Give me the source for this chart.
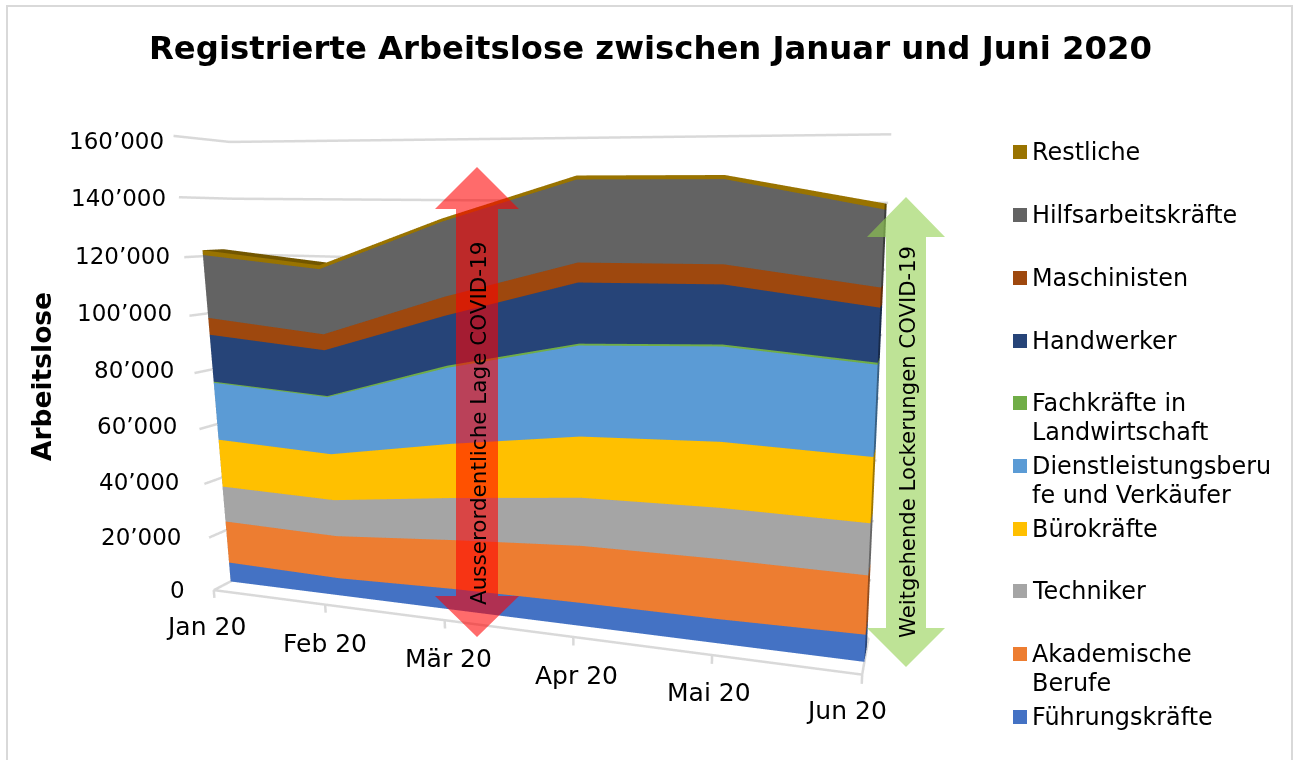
import numpy as np, plotly.graph_objects as go

W, H = 1293, 760
months = ["Jan 20", "Feb 20", "Mär 20", "Apr 20", "Mai 20", "Jun 20"]
names = ["Führungskräfte", "Akademische Berufe", "Techniker", "Bürokräfte", "Dienstleistungsberufe und Verkäufer",
         "Fachkräfte in Landwirtschaft", "Handwerker", "Maschinisten", "Hilfsarbeitskräfte", "Restliche"]
colors = ["#4472C4", "#ED7D31", "#A5A5A5", "#FFC000", "#5B9BD5", "#70AD47", "#264478", "#9E480E", "#636363", "#997300"]
fuehrung = [7400, 6500, 7700, 8200, 8300, 9000]
akademisch = [15900, 15800, 17800, 20000, 20300, 19300]
techniker = [13300, 13300, 15000, 16500, 16900, 16600]
buero = [17600, 16700, 18900, 20500, 21300, 20600]
dienst = [20900, 20300, 25900, 29600, 29800, 27800]
fach = [400, 400, 700, 600, 600, 600]
handwerk = [16900, 16000, 16600, 19300, 18200, 16100]
maschinen = [6000, 5500, 6200, 6200, 6000, 5800]
hilfs = [22000, 22100, 24100, 25300, 24900, 22100]
rest = [1700, 1300, 1000, 1200, 1200, 1700]
series = [fuehrung, akademisch, techniker, buero, dienst, fach, handwerk, maschinen, hilfs, rest]

XR, YR, ZR = (-0.05, 5.05), (-0.03, 1.03), (-4000, 164000)
D0, D1 = 0.33, 0.72

fig=go.Figure()
cum=np.zeros(6)
for name,col,vv in zip(names,colors,series):
    lo=cum.copy(); hi=cum+np.array(vv); cum=hi
    vx=[];vy=[];vz=[];I=[];J=[];K=[];fc=[]
    c0=np.array([int(col[i:i+2],16) for i in (1,3,5)])
    dark=lambda k:"rgb(%d,%d,%d)"%tuple(c0*k)
    def quad(a,b,c_,d,color):
        n=len(vx)
        for (qx,qy,qz) in (a,b,c_,d):
            vx.append(qx);vy.append(qy);vz.append(qz)
        I.extend([n,n]);J.extend([n+1,n+2]);K.extend([n+2,n+3]);fc.extend([color,color])
    for i in range(5):
        quad((i,D0,lo[i]),(i+1,D0,lo[i+1]),(i+1,D0,hi[i+1]),(i,D0,hi[i]),col)
        quad((i,D0,hi[i]),(i+1,D0,hi[i+1]),(i+1,D1,hi[i+1]),(i,D1,hi[i]),dark(.75))
        quad((i,D1,lo[i]),(i+1,D1,lo[i+1]),(i+1,D1,hi[i+1]),(i,D1,hi[i]),dark(.6))
    quad((5,D0,lo[5]),(5,D1,lo[5]),(5,D1,hi[5]),(5,D0,hi[5]),dark(.62))
    quad((0,D0,lo[0]),(0,D1,lo[0]),(0,D1,hi[0]),(0,D0,hi[0]),dark(.62))
    fig.add_trace(go.Mesh3d(x=vx,y=vy,z=vz,i=I,j=J,k=K,facecolor=fc,flatshading=True,name=name,
        lighting=dict(ambient=1,diffuse=0,specular=0,fresnel=0,roughness=1),hoverinfo="skip",showlegend=False))
lx=[];ly=[];lz=[]
def seg(a,b):
    lx.extend([a[0],b[0],None]);ly.extend([a[1],b[1],None]);lz.extend([a[2],b[2],None])
ticks=list(range(0,160001,20000))
for z in ticks:
    seg((0,0,z),(0,1,z)); seg((0,1,z),(5,1,z))
seg((0,0,0),(5,0,0)); seg((5,0,0),(5,1,0))
for i in range(6): seg((i,0,0),(i,0,-3000))
fig.add_trace(go.Scatter3d(x=lx,y=ly,z=lz,mode="lines",line=dict(color="#D9D9D9",width=5),hoverinfo="skip",showlegend=False))

F="DejaVu Sans"
val_dx=[-2,-1,1,4,6,9,12,14,17]
val_dy=[0,-1,-2,-3,-3,-3,-1,1,5]
cat_dx=[-5,3,7,6,0,-13]
cat_dy=[-2,1,0,1,-1,-2]
san=[]
for k,z in enumerate(ticks):
    san.append(dict(x=0,y=0,z=z,text=f"{z:,}".replace(",","’"),showarrow=False,xanchor="right",yanchor="middle",xshift=-22+val_dx[k]-3,yshift=-val_dy[k],font=dict(family=F,size=23,color="#000")))
for i,m in enumerate(months):
    san.append(dict(x=i,y=0,z=0,text=m,showarrow=False,xanchor="center",yanchor="middle",xshift=cat_dx[i]-3,yshift=-38-cat_dy[i],font=dict(family=F,size=25,color="#000")))
scene=dict(domain=dict(x=[0.0853,1],y=[0,1]),aspectmode="manual",aspectratio=dict(x=1.261,y=0.1418,z=0.8915),dragmode="orbit",
    camera=dict(eye=dict(x=0.7016,y=-1.4510,z=0.2951),center=dict(x=0.2108,y=0.4700,z=-0.0597),up=dict(x=0.020,y=-0.1181,z=1)),
    xaxis=dict(visible=False,range=list(XR)),yaxis=dict(visible=False,range=list(YR)),zaxis=dict(visible=False,range=list(ZR)),annotations=san,bgcolor="rgba(0,0,0,0)")

def poly(xs,ys):
    return "M"+" L".join(f"{a},{b}" for a,b in zip(xs,ys))+" Z"
red=poly([477,519,498,498,519,477,435,456,456,435],[167,209,209,596,596,637,596,596,209,209])
green=poly([906,945,926,926,945,906,867,886,886,867],[197,237,237,628,628,667,628,628,237,237])
shapes=[dict(type="path",path=red,fillcolor="rgba(255,0,0,.58)",line=dict(width=0),xref="x",yref="y"),
        dict(type="path",path=green,fillcolor="rgba(146,208,80,.6)",line=dict(width=0),xref="x",yref="y"),
        dict(type="rect",x0=7,x1=1292,y0=6,y1=790,line=dict(color="#D9D9D9",width=2),xref="x",yref="y")]
legend=[(["Restliche"],152,"#997300"),(["Hilfsarbeitskräfte"],215,"#636363"),(["Maschinisten"],278,"#9E480E"),(["Handwerker"],341,"#264478"),
 (["Fachkräfte in","Landwirtschaft"],403,"#70AD47"),(["Dienstleistungsberu","fe und Verkäufer"],466,"#5B9BD5"),(["Bürokräfte"],529,"#FFC000"),
 (["Techniker"],591,"#A5A5A5"),(["Akademische","Berufe"],654,"#ED7D31"),(["Führungskräfte"],717,"#4472C4")]
ann=[dict(x=650,y=48,text="<b>Registrierte Arbeitslose zwischen Januar und Juni 2020</b>",showarrow=False,font=dict(family=F,size=32.3,color="#000"),xanchor="center",yanchor="middle"),
     dict(x=41,y=377,text="<b>Arbeitslose</b>",textangle=-90,showarrow=False,font=dict(family=F,size=26.5,color="#000")),
     dict(x=478,y=424,text="Ausserordentliche Lage COVID-19",textangle=-90,showarrow=False,font=dict(family=F,size=21.5,color="#000")),
     dict(x=907,y=442,text="Weitgehende Lockerungen COVID-19",textangle=-90,showarrow=False,font=dict(family=F,size=21.2,color="#000"))]
for lines,y,c_ in legend:
    for n,t in enumerate(lines):
        ann.append(dict(x=1030,y=y+29*n,text=t,showarrow=False,xanchor="left",yanchor="middle",align="left",font=dict(family=F,size=23.9,color="#000")))
    shapes.append(dict(type="rect",x0=1013,x1=1027,y0=y-7,y1=y+7,fillcolor=c_,line=dict(width=0),xref="x",yref="y"))
for a in ann: a.update(xref="x",yref="y")
fig.update_layout(width=W,height=H,margin=dict(l=0,r=0,t=0,b=0),paper_bgcolor="white",plot_bgcolor="rgba(0,0,0,0)",showlegend=False,scene=scene,shapes=shapes,annotations=ann,
    xaxis=dict(visible=False,range=[0,W],domain=[0,1],fixedrange=True),yaxis=dict(visible=False,range=[H,0],domain=[0,1],fixedrange=True))
fig.write_html("out.html",post_script="document.body.style.margin='0';document.body.style.overflow='hidden';",config=dict(displayModeBar=False))
